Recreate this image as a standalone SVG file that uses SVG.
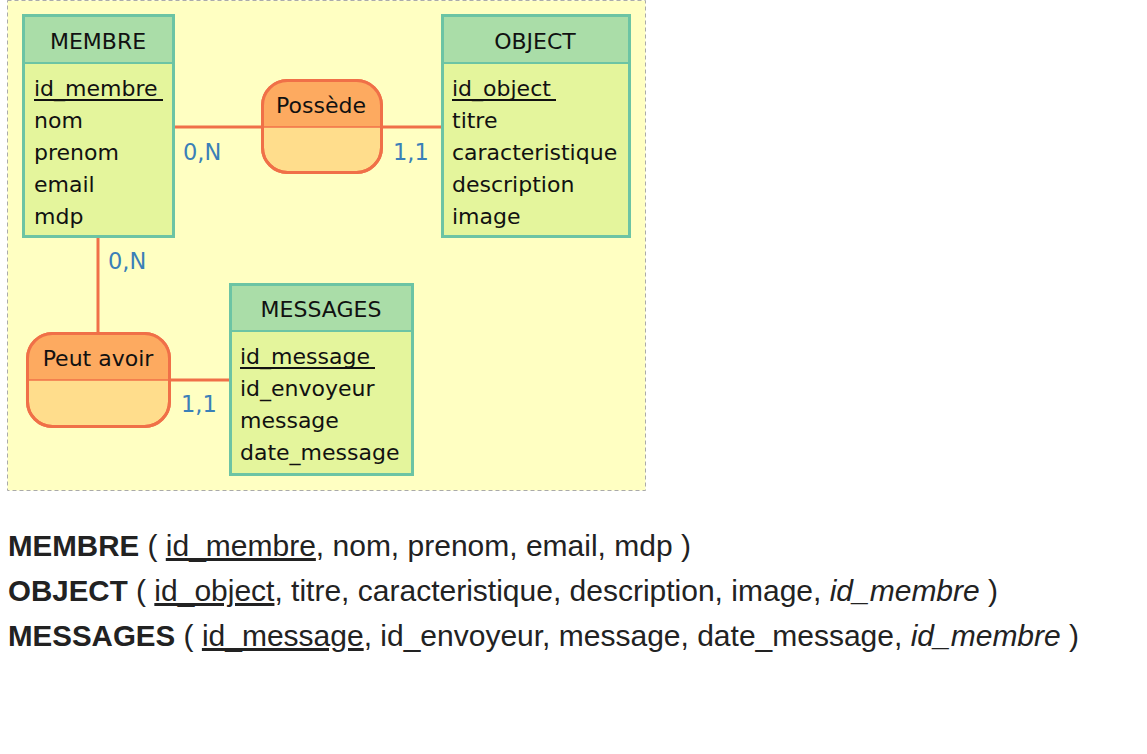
<svg xmlns="http://www.w3.org/2000/svg" width="1147" height="754" viewBox="0 0 1147 754">
<style>
.ent{fill:#e4f59c;stroke:#6cc4a4;stroke-width:3}
.hdr{fill:#aadda8}
.sep{stroke:#6cc4a4;stroke-width:2}
.t{font-family:"DejaVu Sans",Verdana,sans-serif;font-size:22px;fill:#111}
.c{text-anchor:middle}
.u{text-decoration:underline}
.rel{fill:#ffdd8c;stroke:#f07048;stroke-width:3}
.rh{fill:#fdaa60}
.rsep{stroke:#f07048;stroke-width:1.5}
.lnk{stroke:#f07048;stroke-width:3;fill:none}
.card{font-family:"DejaVu Sans",Verdana,sans-serif;font-size:22.5px;fill:#3a80b8}
.b{font-family:"Liberation Sans",Arial,sans-serif;font-size:30px;fill:#222}
.bb{font-weight:bold;font-size:29.5px}
</style>
<rect x="7.5" y="0.5" width="638" height="490" fill="#ffffc2" stroke="#aaa" stroke-width="1" stroke-dasharray="4,3"/>
<g id="connectors">
<line class="lnk" x1="174" y1="127" x2="262" y2="127"/>
<line class="lnk" x1="382" y1="127" x2="442" y2="127"/>
<line class="lnk" x1="98" y1="237" x2="98" y2="333"/>
<line class="lnk" x1="170" y1="380" x2="230" y2="380"/>
<text class="card" x="183" y="160">0,N</text>
<text class="card" x="393" y="160">1,1</text>
<text class="card" x="108" y="269">0,N</text>
<text class="card" x="181" y="412">1,1</text>
</g>
<g id="membre">
<rect class="ent" x="23.5" y="15.5" width="150" height="221"/>
<rect class="hdr" x="25" y="17" width="147" height="46"/>
<line class="sep" x1="25" y1="63" x2="172" y2="63"/>
<text class="t c" x="98" y="49">MEMBRE</text>
<text class="t" x="34" y="96">id_membre</text>
<line x1="34" y1="100" x2="163" y2="100" stroke="#111" stroke-width="2"/>
<text class="t" x="34" y="128">nom</text>
<text class="t" x="34" y="160">prenom</text>
<text class="t" x="34" y="192">email</text>
<text class="t" x="34" y="224">mdp</text>
</g>
<g id="object">
<rect class="ent" x="442.5" y="15.5" width="187" height="221"/>
<rect class="hdr" x="444" y="17" width="184" height="46"/>
<line class="sep" x1="444" y1="63" x2="628" y2="63"/>
<text class="t c" x="535" y="49">OBJECT</text>
<text class="t" x="452" y="96">id_object</text>
<line x1="452" y1="100" x2="556" y2="100" stroke="#111" stroke-width="2"/>
<text class="t" x="452" y="128">titre</text>
<text class="t" x="452" y="160">caracteristique</text>
<text class="t" x="452" y="192">description</text>
<text class="t" x="452" y="224">image</text>
</g>
<g id="messages">
<rect class="ent" x="230.5" y="284.5" width="182" height="190"/>
<rect class="hdr" x="232" y="286" width="179" height="45"/>
<line class="sep" x1="232" y1="331" x2="411" y2="331"/>
<text class="t c" x="321" y="317">MESSAGES</text>
<text class="t" x="240" y="364">id_message</text>
<line x1="240" y1="368" x2="375" y2="368" stroke="#111" stroke-width="2"/>
<text class="t" x="240" y="396">id_envoyeur</text>
<text class="t" x="240" y="428">message</text>
<text class="t" x="240" y="460">date_message</text>
</g>
<g id="possede">
<clipPath id="cp1"><rect x="262" y="80" width="120" height="47"/></clipPath>
<rect class="rel" x="262.5" y="80.5" width="119" height="92" rx="25"/>
<rect class="rh" x="262.5" y="80.5" width="119" height="92" rx="25" clip-path="url(#cp1)"/>
<rect x="262.5" y="80.5" width="119" height="92" rx="25" fill="none" stroke="#f07048" stroke-width="3"/>
<line class="rsep" x1="264" y1="127" x2="380" y2="127"/>
<text class="t c" x="321" y="113">Possède</text>
</g>
<g id="peut_avoir">
<clipPath id="cp2"><rect x="27" y="333" width="143" height="47"/></clipPath>
<rect class="rel" x="27.5" y="333.5" width="142" height="93" rx="25"/>
<rect class="rh" x="27.5" y="333.5" width="142" height="93" rx="25" clip-path="url(#cp2)"/>
<rect x="27.5" y="333.5" width="142" height="93" rx="25" fill="none" stroke="#f07048" stroke-width="3"/>
<line class="rsep" x1="29" y1="380" x2="168" y2="380"/>
<text class="t c" x="98" y="366">Peut avoir</text>
</g>
<g id="schema">
<text class="b" x="8" y="556"><tspan class="bb">MEMBRE</tspan> ( <tspan class="u">id_membre</tspan>, nom, prenom, email, mdp )</text>
<text class="b" x="8" y="601"><tspan class="bb">OBJECT</tspan> ( <tspan class="u">id_object</tspan>, titre, caracteristique, description, image, <tspan font-style="italic">id_membre</tspan> )</text>
<text class="b" x="8" y="646"><tspan class="bb">MESSAGES</tspan> ( <tspan class="u">id_message</tspan>, id_envoyeur, message, date_message, <tspan font-style="italic">id_membre</tspan> )</text>
</g>
</svg>
